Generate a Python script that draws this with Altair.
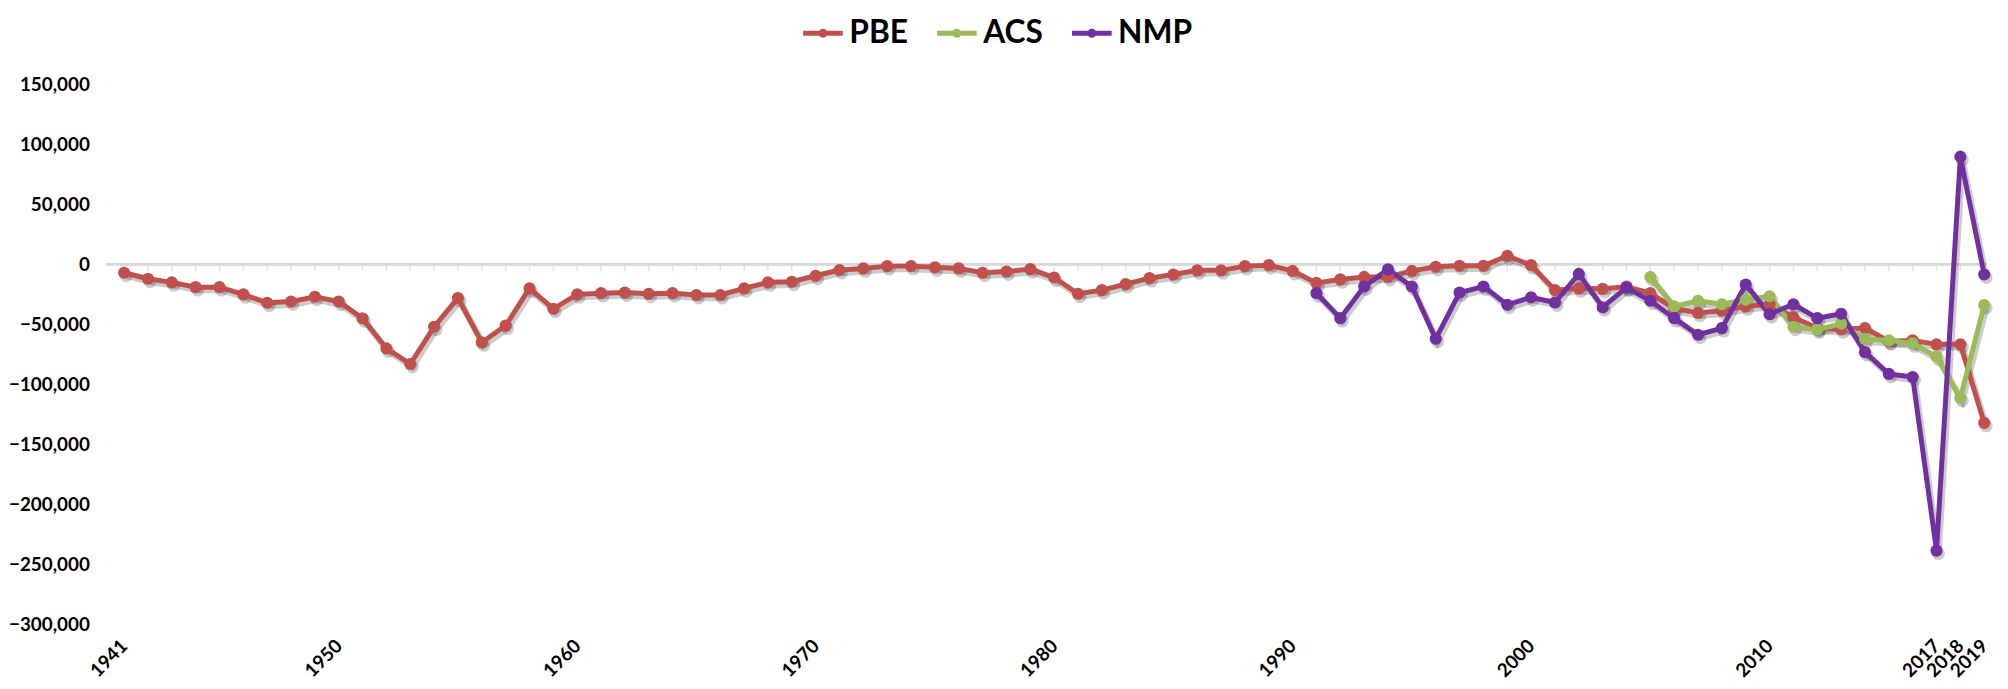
import altair as alt
import pandas as pd

series_names = ["PBE", "ACS", "NMP"]
series_colors = ["#C0504D", "#9BBB59", "#7030A0"]

years_pbe = list(range(1941, 2020))
pbe = [-7000, -12000, -15000, -19000, -19000, -25000, -32000, -31000, -27000, -31000,
       -45000, -70000, -83000, -52000, -28000, -65000, -51000, -20000, -37000, -25000,
       -24000, -23500, -24500, -24000, -25500, -25500, -20000, -15000, -14500, -9500,
       -4700, -3400, -1500, -1500, -2500, -3400, -7000, -6000, -4000, -11000,
       -24500, -21500, -16500, -11500, -8500, -5000, -5000, -1500, -700, -5500,
       -15500, -12500, -10500, -10500, -5500, -2000, -1200, -1200, 7000, -700,
       -21500, -20000, -20400, -18600, -24000, -36800, -40400, -38600, -35000, -33200,
       -44000, -53000, -54000, -53000, -64000, -63300, -66600, -66600, -132000]

years_acs = list(range(2005, 2020))
acs = [-10600, -35000, -30300, -33200, -29500, -26600, -52000, -54200, -49500, -62200,
       -63300, -65800, -76700, -111200, -33900]

years_nmp = list(range(1991, 2020))
nmp = [-24000, -44800, -18500, -4200, -18500, -62000, -23500, -18500, -33700, -27400,
       -31800, -8000, -35700, -19400, -30300, -44800, -58600, -53100, -16800, -41500,
       -33200, -44800, -41200, -73100, -91200, -93800, -238300, 89600, -8500]

y_ticks = list(range(-300000, 150001, 50000))
x_labels = [1941, 1950, 1960, 1970, 1980, 1990, 2000, 2010, 2017, 2018, 2019]

rows = []
for name, ys, vs in [("PBE", years_pbe, pbe), ("ACS", years_acs, acs), ("NMP", years_nmp, nmp)]:
    rows += [{"year": yr, "value": v, "series": name} for yr, v in zip(ys, vs)]
df = pd.DataFrame(rows)
ticks_df = pd.DataFrame({"year": years_pbe, "value": [0] * len(years_pbe)})

FONT = "Lato"

x_scale = alt.Scale(domain=[1940.25, 2019.08], nice=False, zero=False)
y_scale = alt.Scale(domain=[-300000, 150000], nice=False, zero=False)

x_axis = alt.Axis(values=x_labels, format="d", labelAngle=-45, labelAlign="right",
                  labelBaseline="middle", labelPadding=18, labelOverlap=False,
                  labelFlush=False, domain=False, ticks=False, grid=False, title=None,
                  labelFont=FONT, labelFontWeight="bold", labelFontSize=19,
                  labelColor="#000000")
y_axis = alt.Axis(values=y_ticks, format=",.0f", domain=False, ticks=False, grid=False,
                  title=None, labelPadding=17, labelFont=FONT, labelFontWeight="bold",
                  labelFontSize=19, labelColor="#000000", minExtent=97, maxExtent=97)

x_enc = alt.X("year:Q", scale=x_scale, axis=x_axis)
y_enc = alt.Y("value:Q", scale=y_scale, axis=y_axis)
color_scale = alt.Scale(domain=series_names, range=series_colors)

zero_line = alt.Chart(ticks_df).mark_rule(color="#D9D9D9", strokeWidth=2).encode(
    y=y_enc
)

year_ticks = alt.Chart(ticks_df).mark_tick(
    color="#D9D9D9", thickness=1.5, size=7, yOffset=3.5, orient="vertical"
).encode(x=x_enc, y=y_enc)

shadow_line = alt.Chart(df).mark_line(
    strokeWidth=6.5, color="#000000", opacity=0.2, xOffset=2, yOffset=3
).encode(x=x_enc, y=y_enc, detail="series:N")

shadow_pts = alt.Chart(df).mark_circle(
    size=170, color="#000000", opacity=0.2, xOffset=2, yOffset=3
).encode(x=x_enc, y=y_enc)

lines = alt.Chart(df).mark_line(strokeWidth=5).encode(
    x=x_enc,
    y=y_enc,
    color=alt.Color(
        "series:N",
        scale=color_scale,
        legend=alt.Legend(
            title=None, orient="none", legendX=700, legendY=-74, direction="horizontal",
            symbolType="M-1,0H1M0.1,0A0.1,0.1 0 1 1 -0.1,0A0.1,0.1 0 1 1 0.1,0",
            symbolSize=1600, symbolStrokeWidth=5, labelFont=FONT, labelFontSize=32,
            labelFontWeight="bold", labelColor="#000000", columnPadding=18,
            labelOffset=4,
        ),
    ),
)

points = alt.Chart(df).mark_circle(size=150, opacity=1).encode(
    x=x_enc,
    y=y_enc,
    color=alt.Color("series:N", scale=color_scale, legend=None),
)

chart = alt.layer(zero_line, year_ticks, shadow_line, shadow_pts, lines, points).properties(
    width=1895, height=545, padding=0
).configure(background="white").configure_view(stroke=None)

chart.save("out.html", embed_options={"renderer": "svg", "actions": False})
